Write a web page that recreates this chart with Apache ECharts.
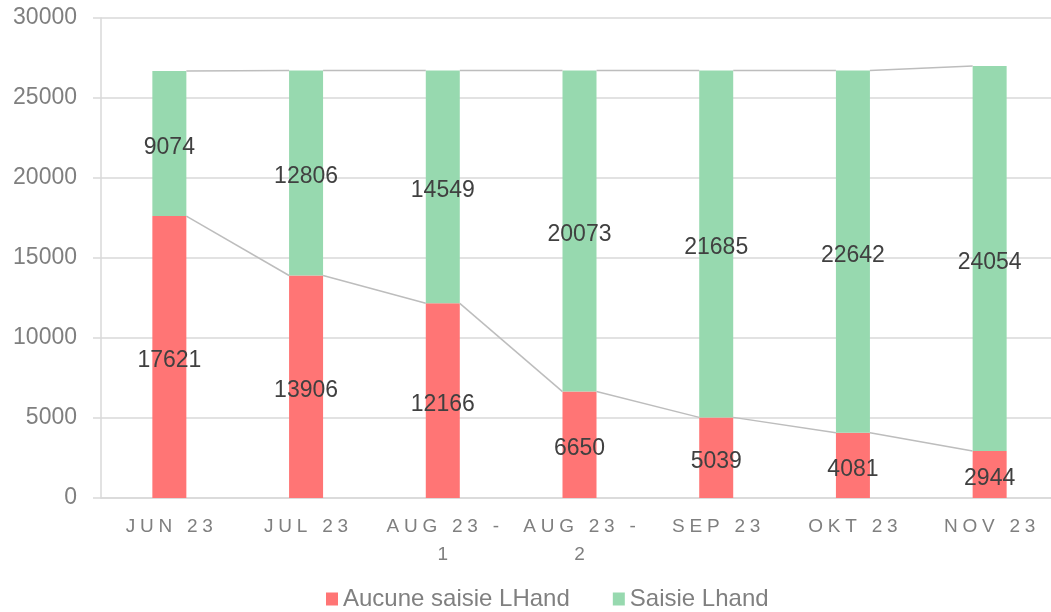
<!DOCTYPE html>
<html>
<head>
<meta charset="utf-8">
<script src="https://cdn.jsdelivr.net/npm/echarts@6/dist/echarts.min.js"></script>
<style>
html,body{margin:0;padding:0;background:#fff;overflow:hidden;width:1051px;height:612px;}
#chart{width:1062px;height:612px;}
</style>
</head>
<body>
<div id="chart"></div>
<script>
const categories = ['JUN 23', 'JUL 23', 'AUG 23 - 1', 'AUG 23 - 2', 'SEP 23', 'OKT 23', 'NOV 23'];
const aucuneSaisie = [17621, 13906, 12166, 6650, 5039, 4081, 2944];
const saisie = [9074, 12806, 14549, 20073, 21685, 22642, 24054];
const seriesNames = ['Aucune saisie LHand', 'Saisie Lhand'];
const yTicks = {min: 0, max: 30000, interval: 5000};

const FONT = '"Liberation Sans", Arial, sans-serif';
const RED = '#FF7575';
const GREEN = '#97D9AF';
const BAR_W = 34;

const totals = aucuneSaisie.map((v, i) => v + saisie[i]);
const connectors = [];
for (let i = 0; i < categories.length - 1; i++) {
  connectors.push([i, aucuneSaisie[i], aucuneSaisie[i + 1], totals[i], totals[i + 1]]);
}

function spaced(s) {
  return s.split('').join('\u2005');
}
function fmtCat(v) {
  if (v.indexOf(' - ') >= 0) {
    const parts = v.split(' - ');
    return spaced(parts[0] + ' -') + '\n' + spaced(parts[1]);
  }
  return spaced(v);
}

const chart = echarts.init(document.getElementById('chart'), null, {renderer: 'canvas'});
chart.setOption({
  animation: false,
  backgroundColor: '#fff',
  textStyle: {fontFamily: FONT},
  grid: {left: 101, top: 18, width: 957, height: 480, containLabel: false},
  legend: {
    top: 587,
    left: 326,
    padding: 0,
    itemWidth: 12,
    itemHeight: 13,
    itemGap: 43,
    icon: 'rect',
    data: seriesNames,
    textStyle: {fontFamily: FONT, fontSize: 24, color: '#808080'}
  },
  xAxis: {
    type: 'category',
    data: categories,
    axisLine: {show: true, lineStyle: {color: '#D9D9D9', width: 1.5}},
    axisTick: {show: false},
    axisLabel: {
      interval: 0,
      margin: 15,
      fontFamily: FONT,
      fontSize: 19,
      lineHeight: 28,
      color: '#7F7F7F',
      formatter: fmtCat
    }
  },
  yAxis: {
    type: 'value',
    min: yTicks.min,
    max: yTicks.max,
    interval: yTicks.interval,
    axisLine: {show: true, lineStyle: {color: '#D9D9D9', width: 1.5}},
    axisTick: {show: true, length: 8, lineStyle: {color: '#D9D9D9', width: 1.5}},
    splitLine: {show: true, lineStyle: {color: '#D9D9D9', width: 1.5}},
    axisLabel: {margin: 24, fontFamily: FONT, fontSize: 23, color: '#7F7F7F', formatter: function (v) { return String(v); }}
  },
  series: [
    {
      name: seriesNames[0],
      type: 'bar',
      stack: 'total',
      barWidth: BAR_W,
      itemStyle: {color: RED},
      label: {show: true, position: 'inside', offset: [0, 4], fontFamily: FONT, fontSize: 23, color: '#404040'},
      data: aucuneSaisie
    },
    {
      name: seriesNames[1],
      type: 'bar',
      stack: 'total',
      barWidth: BAR_W,
      itemStyle: {color: GREEN},
      label: {show: true, position: 'inside', offset: [0, 4], fontFamily: FONT, fontSize: 23, color: '#404040'},
      data: saisie
    },
    {
      type: 'custom',
      silent: true,
      z: 5,
      encode: {x: 0, y: 1},
      data: connectors,
      renderItem: function (params, api) {
        const i = api.value(0);
        const a0 = api.coord([i, api.value(1)]);
        const a1 = api.coord([i + 1, api.value(2)]);
        const b0 = api.coord([i, api.value(3)]);
        const b1 = api.coord([i + 1, api.value(4)]);
        const h = BAR_W / 2;
        const style = {stroke: '#BDBDBD', lineWidth: 1.5, fill: null};
        return {
          type: 'group',
          children: [
            {type: 'line', shape: {x1: a0[0] + h, y1: a0[1], x2: a1[0] - h, y2: a1[1]}, style: style},
            {type: 'line', shape: {x1: b0[0] + h, y1: b0[1], x2: b1[0] - h, y2: b1[1]}, style: style}
          ]
        };
      }
    }
  ]
});
</script>
</body>
</html>
